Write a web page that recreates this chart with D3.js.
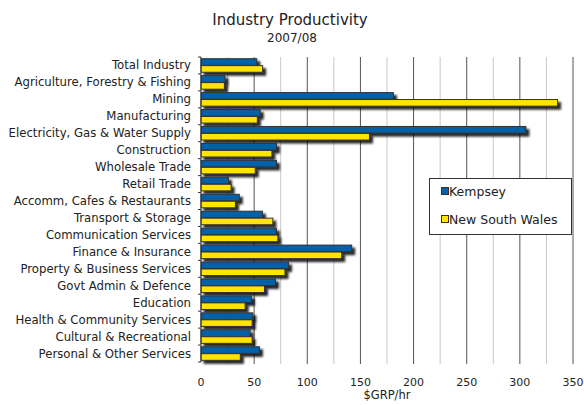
<!DOCTYPE html>
<html><head><meta charset="utf-8">
<script src="https://cdn.jsdelivr.net/npm/d3@7"></script>
<style>body{margin:0;background:#fff}svg{display:block}text{font-family:"DejaVu Sans",sans-serif;fill:#222}</style>
</head><body><svg id="c" width="584" height="405"></svg>
<script>
const categories = ["Total Industry","Agriculture, Forestry & Fishing","Mining","Manufacturing","Electricity, Gas & Water Supply","Construction","Wholesale Trade","Retail Trade","Accomm, Cafes & Restaurants","Transport & Storage","Communication Services","Finance & Insurance","Property & Business Services","Govt Admin & Defence","Education","Health & Community Services","Cultural & Recreational","Personal & Other Services"];
const kempsey = [52.5,22.6,181,55.7,305.7,71,71,25.8,36,57.8,71,141.8,82.4,70.1,47.5,48.8,46.2,55];
const nsw = [58,22,335.5,53,158.5,66.7,51,28.3,32.4,67.6,72.3,132.4,79,59.7,41.5,48.1,48.1,37];
const seriesNames = ["Kempsey","New South Wales"];
const seriesColors = ["#0561A8","#FFE500"];
const xTicks = [0,50,100,150,200,250,300,350];
const gridVals = d3.range(25,351,25);

const svg = d3.select("#c");
const L=201, R=573, T=57, B=362;
const x = d3.scaleLinear().domain([0,350]).range([L,R]);
const y = d3.scaleBand().domain(categories).range([T,B]).paddingInner(0.2).paddingOuter(0.1);
const y1 = d3.scaleBand().domain(seriesNames).range([0,y.bandwidth()]).paddingInner(0.05);

const defs = svg.append("defs");
const f = defs.append("filter").attr("id","sh").attr("x","-10%").attr("y","-50%").attr("width","130%").attr("height","250%");
f.append("feDropShadow").attr("dx",3).attr("dy",3).attr("stdDeviation",1.3).attr("flood-color","#000").attr("flood-opacity",0.85);

// title
svg.append("text").attr("x",290).attr("y",25).attr("text-anchor","middle").style("font-size","15px").text("Industry Productivity");
svg.append("text").attr("x",292).attr("y",42).attr("text-anchor","middle").style("font-size","12px").text("2007/08");

// grid
svg.append("g").selectAll("line").data(gridVals).join("line")
 .attr("x1",d=>x(d)).attr("x2",d=>x(d)).attr("y1",T).attr("y2",B+2)
 .attr("stroke",d=>d%50===0?"#555":"#c8c8c8").attr("stroke-width",1);

// bars
const g = svg.append("g");
const rows = categories.map((c,i)=>({c, vals:[kempsey[i],nsw[i]]}));
const rg = g.selectAll("g").data(rows).join("g").attr("transform",d=>`translate(0,${y(d.c)})`);
rg.selectAll("rect").data(d=>d.vals.map((v,j)=>({v,s:seriesNames[j],j}))).join("rect")
 .attr("x",x(0)).attr("y",d=>y1(d.s)).attr("width",d=>x(d.v)-x(0)).attr("height",y1.bandwidth())
 .attr("fill",d=>seriesColors[d.j]).attr("stroke","#333").attr("stroke-width",1).attr("filter","url(#sh)");

// left axis
svg.append("line").attr("x1",L).attr("x2",L).attr("y1",T).attr("y2",B).attr("stroke","#333");
svg.append("g").selectAll("line").data(d3.range(categories.length+1)).join("line")
 .attr("x1",L-3).attr("x2",L).attr("y1",i=>T+i*(B-T)/categories.length).attr("y2",i=>T+i*(B-T)/categories.length).attr("stroke","#333");

// category labels
svg.append("g").selectAll("text").data(categories).join("text")
 .attr("x",191).attr("y",d=>y(d)+y.bandwidth()/2+4).attr("text-anchor","end").style("font-size","11.7px").text(d=>d);

// x ticks
svg.append("g").selectAll("text").data(xTicks).join("text")
 .attr("x",d=>x(d)).attr("y",386).attr("text-anchor","middle").style("font-size","11px").text(d=>d);
svg.append("text").attr("x",x(175)).attr("y",399).attr("text-anchor","middle").style("font-size","11.5px").text("$GRP/hr");

// legend
const lg = svg.append("g");
lg.append("rect").attr("x",429.5).attr("y",178.5).attr("width",142).attr("height",56).attr("fill","#fff").attr("stroke","#333");
seriesNames.forEach((s,i)=>{
  const yy = 192 + i*28;
  lg.append("rect").attr("x",441.5).attr("y",yy-4.5).attr("width",7).attr("height",7).attr("fill",seriesColors[i]).attr("stroke","#333");
  lg.append("text").attr("x",449).attr("y",yy+4).style("font-size","12.5px").text(s);
});
</script></body></html>
